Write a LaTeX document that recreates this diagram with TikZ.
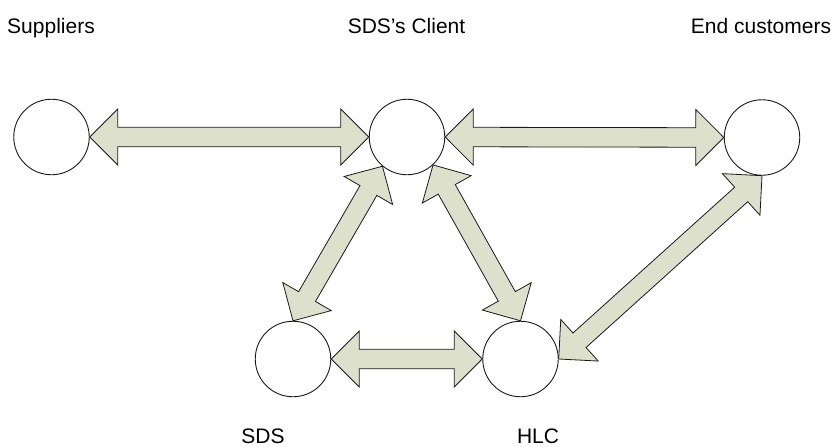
\documentclass[tikz,border=0pt]{standalone}
\usepackage{fontspec}
\setmainfont{Liberation Sans}
\usetikzlibrary{calc}
\definecolor{arrowgreen}{HTML}{DDE1CB}
\definecolor{edgegray}{HTML}{1A1A1A}

% block double arrow between two points: head length, head half-width, shaft half-width
\def\arrHL{28pt}
\def\arrHH{28pt}
\def\arrHW{9.75pt}
\newcommand{\blockarrow}[2]{%
  \filldraw[arrowbody]
    (#1)
    -- ($(#1)!\arrHL!(#2)!\arrHH!90:(#2)$)
    -- ($(#1)!\arrHL!(#2)!\arrHW!90:(#2)$)
    -- ($(#2)!\arrHL!(#1)!\arrHW!-90:(#1)$)
    -- ($(#2)!\arrHL!(#1)!\arrHH!-90:(#1)$)
    -- (#2)
    -- ($(#2)!\arrHL!(#1)!\arrHH!90:(#1)$)
    -- ($(#2)!\arrHL!(#1)!\arrHW!90:(#1)$)
    -- ($(#1)!\arrHL!(#2)!\arrHW!-90:(#2)$)
    -- ($(#1)!\arrHL!(#2)!\arrHH!-90:(#2)$)
    -- cycle;}

\begin{document}
\begin{tikzpicture}[x=1pt,y=-1pt,
  party/.style={circle,draw=edgegray,line width=0.9pt,fill=white,
    minimum size=75.5pt,inner sep=0pt},
  arrowbody/.style={fill=arrowgreen,draw=edgegray,line width=0.8pt,line join=miter},
  caption/.style={anchor=base,inner sep=0pt,font=\fontsize{21pt}{25pt}\selectfont}]
  \useasboundingbox (0,0) rectangle (833,447);

  % parties
  \node[party] (sup)    at (51.5,137) {};
  \node[party] (client) at (407,137) {};
  \node[party] (endc)   at (762,137.5) {};
  \node[party] (sds)    at (293,359) {};
  \node[party] (hlc)    at (520.5,359) {};

  % captions
  \node[caption] (tsup)    at (51,33)    {Suppliers};
  \node[caption] (tclient) at (406.5,33) {SDS’s Client};
  \node[caption] (tendc)   at (761,33)   {End customers};
  \node[caption] (tsds)    at (263,443)  {SDS};
  \node[caption] (thlc)    at (538,443)  {HLC};

  % flows
  \blockarrow{sup.0}{client.180}
  \blockarrow{client.0}{endc.180}
  \blockarrow{sds.0}{hlc.180}
  \blockarrow{client.230}{sds.90}
  \blockarrow{client.313}{hlc.90}
  \blockarrow{endc.270}{hlc.0}
\end{tikzpicture}
\end{document}
